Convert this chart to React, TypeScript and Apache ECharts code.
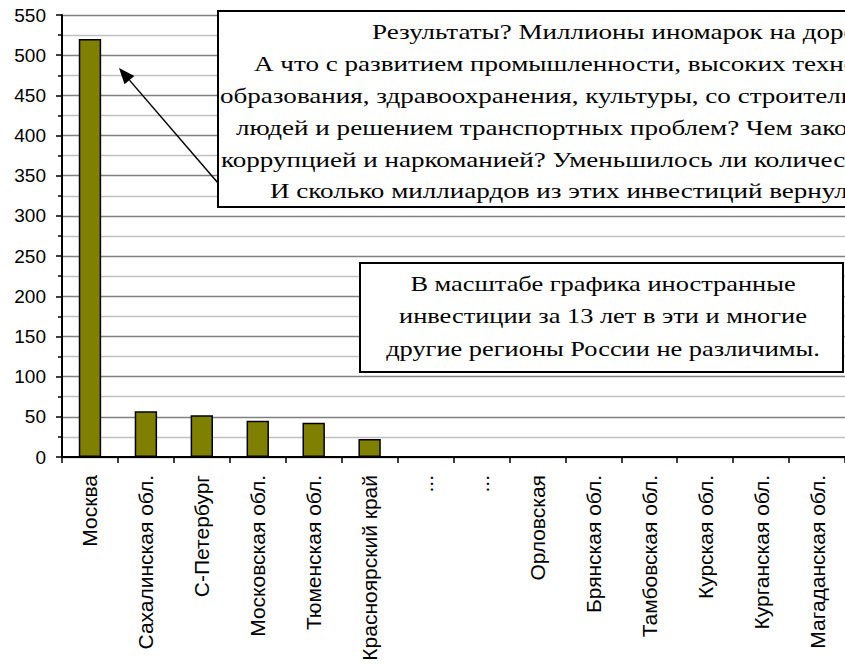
import React, { useEffect, useRef } from 'react';
import * as echarts from 'echarts';

const categories = [
  'Москва',
  'Сахалинская обл.',
  'С-Петербург',
  'Московская обл.',
  'Тюменская обл.',
  'Красноярский край',
  '...',
  '...',
  'Орловская',
  'Брянская обл.',
  'Тамбовская обл.',
  'Курская обл.',
  'Курганская обл.',
  'Магаданская обл.',
];
const values = [520, 57, 52, 45, 42.5, 22.5, 0, 0, 0, 0, 0, 0, 0, 0];
const yMin = 0;
const yMax = 550;
const yStep = 50;

const note1Lines = [
  'Результаты? Миллионы иномарок на дорогах.',
  'А что с развитием промышленности, высоких технологий, науки,',
  'образования, здравоохранения, культуры, со строительством жилья для',
  'людей и решением транспортных проблем? Чем закончилась борьба с',
  'коррупцией и наркоманией? Уменьшилось ли количество бедных?',
  'И сколько миллиардов из этих инвестиций вернулось в Россию?',
];
const note2Lines = [
  'В масштабе графика иностранные',
  'инвестиции за 13 лет в эти и многие',
  'другие регионы России не различимы.',
];

export default function App() {
  const ref = useRef<HTMLDivElement>(null);
  useEffect(() => {
    if (!ref.current) return;
    const chart = echarts.init(ref.current, undefined, { renderer: 'svg' });

    const serifFont = "22px 'Liberation Serif', 'Times New Roman', serif";
    const sans = "'Liberation Sans', Arial, sans-serif";

    const note1X = [372, 254, 220, 236, 221, 270];
    const note1Y = [31, 63, 95, 127, 159, 190];
    const note2Y = [283, 315.5, 348];

    const graphics: any[] = [];
    graphics.push({
      type: 'rect',
      z: 100,
      shape: { x: 218, y: 11, width: 700, height: 196 },
      style: { fill: '#fff', stroke: '#000', lineWidth: 2 },
    });
    note1Lines.forEach((t, i) => {
      graphics.push({
        type: 'text',
        z: 101,
        x: note1X[i],
        y: note1Y[i],
        scaleX: 1.23,
        style: {
          text: t,
          font: serifFont,
          fill: '#000',
          textAlign: 'left',
          textVerticalAlign: 'middle',
        },
      });
    });
    graphics.push({
      type: 'rect',
      z: 100,
      shape: { x: 360, y: 263, width: 483, height: 109 },
      style: { fill: '#fff', stroke: '#000', lineWidth: 2 },
    });
    note2Lines.forEach((t, i) => {
      graphics.push({
        type: 'text',
        z: 101,
        x: 603,
        y: note2Y[i],
        scaleX: 1.2,
        style: {
          text: t,
          font: serifFont,
          fill: '#000',
          textAlign: 'center',
          textVerticalAlign: 'middle',
        },
      });
    });
    // arrow
    const tail = [218, 183];
    const tip = [119, 68];
    const dx = tip[0] - tail[0];
    const dy = tip[1] - tail[1];
    const len = Math.sqrt(dx * dx + dy * dy);
    const ux = dx / len;
    const uy = dy / len;
    const hl = 16;
    const hw = 6.5;
    const bx = tip[0] - ux * hl;
    const by = tip[1] - uy * hl;
    graphics.push({
      type: 'line',
      z: 99,
      shape: { x1: tail[0], y1: tail[1], x2: bx, y2: by },
      style: { stroke: '#000', lineWidth: 1.5 },
    });
    graphics.push({
      type: 'polygon',
      z: 99,
      shape: {
        points: [
          [tip[0], tip[1]],
          [bx - uy * hw, by + ux * hw],
          [bx + uy * hw, by - ux * hw],
        ],
      },
      style: { fill: '#000' },
    });

    chart.setOption({
      animation: false,
      backgroundColor: '#fff',
      textStyle: { fontFamily: sans },
      grid: { left: 62, top: 15, bottom: 211, right: -5.5, containLabel: false },
      xAxis: {
        type: 'category',
        data: categories,
        boundaryGap: true,
        axisLine: { lineStyle: { color: '#000', width: 2 } },
        axisTick: { show: true, length: 6, lineStyle: { color: '#000', width: 1.5 } },
        axisLabel: {
          interval: 0,
          rotate: 90,
          margin: 18,
          fontSize: 21,
          fontFamily: sans,
          color: '#000',
        },
      },
      yAxis: {
        type: 'value',
        min: yMin,
        max: yMax,
        interval: yStep,
        axisLine: { show: true, lineStyle: { color: '#000', width: 2 } },
        axisTick: { show: true, length: 6, lineStyle: { color: '#000', width: 1.5 } },
        minorTick: { show: true, splitNumber: 2, length: 4, lineStyle: { color: '#000', width: 1.5 } },
        splitLine: { show: true, lineStyle: { color: '#808080', width: 1.3 } },
        minorSplitLine: { show: true, lineStyle: { color: '#c0c0c0', width: 1.3 } },
        axisLabel: {
          margin: 16,
          fontSize: 19,
          fontFamily: sans,
          color: '#000',
        },
      },
      series: [
        {
          type: 'bar',
          data: values,
          barWidth: '40%',
          itemStyle: { color: '#808000', borderColor: '#000', borderWidth: 1.5 },
        },
      ],
      graphic: graphics,
    });
    return () => chart.dispose();
  }, []);
  return (
    <div
      ref={ref}
      style={{ position: 'fixed', left: 0, top: 0, width: 845, height: 668, background: '#fff' }}
    />
  );
}
